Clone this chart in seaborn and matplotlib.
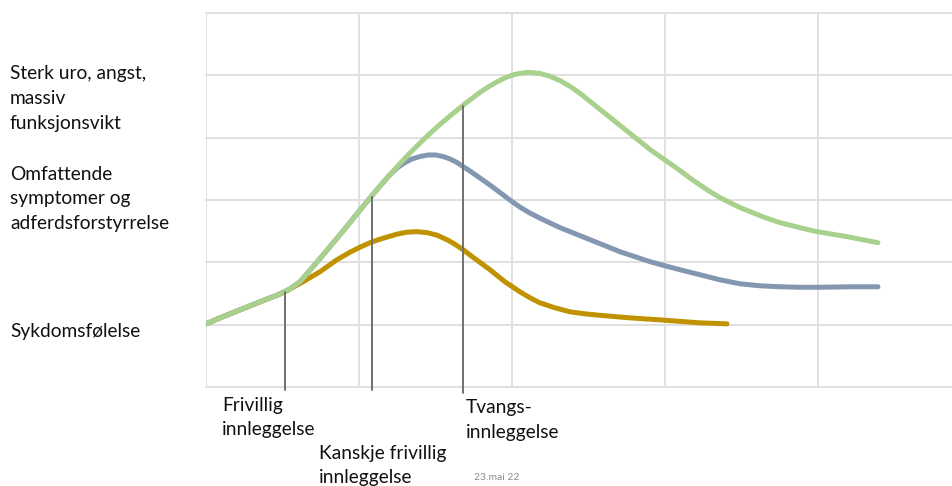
import numpy as np
import pandas as pd
import matplotlib
matplotlib.use("Agg")
import matplotlib.pyplot as plt
import seaborn as sns

# Curves (x: grid columns from the left edge, y: grid rows from the bottom)
green_x = [0, 0.092, 0.190, 0.288, 0.386, 0.471, 0.549, 0.614, 0.699, 0.758, 0.810, 0.876,
           0.922, 0.993, 1.085, 1.137, 1.203, 1.268, 1.333, 1.399, 1.464, 1.529, 1.595,
           1.680, 1.725, 1.791, 1.856, 1.902, 1.954, 2.007, 2.052, 2.105, 2.183, 2.248,
           2.314, 2.379, 2.444, 2.510, 2.575, 2.641, 2.706, 2.771, 2.837, 2.902, 2.967,
           3.033, 3.098, 3.163, 3.229, 3.294, 3.359, 3.425, 3.490, 3.556, 3.654, 3.752,
           3.882, 3.993, 4.190, 4.392]
green_y = [1.013, 1.109, 1.206, 1.302, 1.399, 1.479, 1.576, 1.688, 1.929, 2.098, 2.251, 2.444,
           2.580, 2.797, 3.071, 3.223, 3.408, 3.585, 3.754, 3.915, 4.068, 4.212, 4.349,
           4.518, 4.606, 4.727, 4.831, 4.895, 4.960, 5.008, 5.032, 5.048, 5.030, 4.985,
           4.915, 4.823, 4.711, 4.582, 4.453, 4.325, 4.196, 4.068, 3.939, 3.810, 3.698,
           3.585, 3.473, 3.352, 3.240, 3.135, 3.039, 2.958, 2.878, 2.814, 2.717, 2.637,
           2.556, 2.492, 2.412, 2.315]

blue_x = [0, 0.092, 0.190, 0.288, 0.386, 0.471, 0.549, 0.614, 0.699, 0.758, 0.810, 0.876,
          0.922, 0.993, 1.085, 1.137, 1.203, 1.248, 1.301, 1.346, 1.399, 1.451, 1.503,
          1.549, 1.595, 1.641, 1.680, 1.725, 1.791, 1.856, 1.922, 1.987, 2.052, 2.118,
          2.216, 2.314, 2.412, 2.510, 2.608, 2.706, 2.804, 2.902, 3.000, 3.098, 3.229,
          3.359, 3.490, 3.621, 3.752, 3.882, 4.013, 4.209, 4.392]
blue_y = [1.013, 1.109, 1.206, 1.302, 1.399, 1.479, 1.576, 1.688, 1.929, 2.098, 2.251, 2.444,
          2.580, 2.797, 3.071, 3.223, 3.408, 3.513, 3.601, 3.658, 3.698, 3.722, 3.722,
          3.698, 3.658, 3.601, 3.537, 3.465, 3.352, 3.240, 3.119, 2.998, 2.886, 2.789,
          2.669, 2.556, 2.460, 2.363, 2.267, 2.170, 2.090, 2.010, 1.945, 1.881, 1.801,
          1.720, 1.656, 1.624, 1.608, 1.600, 1.600, 1.608, 1.608]

orange_x = [0, 0.092, 0.190, 0.288, 0.386, 0.471, 0.516, 0.634, 0.745, 0.856, 0.941, 1.007,
            1.072, 1.137, 1.248, 1.314, 1.379, 1.444, 1.510, 1.575, 1.627, 1.680, 1.758,
            1.856, 1.954, 2.052, 2.118, 2.183, 2.281, 2.379, 2.477, 2.575, 2.771, 2.967,
            3.229, 3.405]
orange_y = [1.013, 1.109, 1.206, 1.302, 1.399, 1.479, 1.527, 1.688, 1.849, 2.042, 2.162, 2.243,
            2.315, 2.371, 2.452, 2.484, 2.492, 2.476, 2.436, 2.363, 2.291, 2.203, 2.058,
            1.881, 1.688, 1.527, 1.431, 1.350, 1.270, 1.206, 1.174, 1.150, 1.109, 1.077,
            1.029, 1.013]

# Admission markers: x position, top and bottom of each line
marker_x = [0.516, 1.085, 1.680]
marker_top = [1.53, 3.05, 4.50]
marker_bottom = [-0.05, -0.05, -0.10]

level_labels = ["Sterk uro, angst,\nmassiv\nfunksjonsvikt",
                "Omfattende\nsymptomer og\nadferdsforstyrrelse",
                "Sykdomsfølelse"]
admission_labels = ["Frivillig\ninnleggelse", "Kanskje frivillig\ninnleggelse",
                    "Tvangs-\ninnleggelse"]

sns.set_style("white")
plt.rcParams['font.family'] = ['Lato', 'DejaVu Sans']

W, H = 953, 486
fig = plt.figure(figsize=(W / 100, H / 100), dpi=100)
ax = fig.add_axes([206 / W, 1 - 387 / H, (W - 206) / W, 374 / H])

grid_c = "#e0e0e0"
for gx in range(0, 6):
    ax.axvline(gx, color=grid_c, lw=1.4, zorder=0)
for gy in range(0, 7):
    ax.axhline(gy, color=grid_c, lw=1.4, zorder=0, clip_on=False)

curves = [(orange_x, orange_y, "#c09200"),
          (blue_x, blue_y, "#8497b0"),
          (green_x, green_y, "#a9d18e")]
for cx, cy, col in curves:
    df = pd.DataFrame({"x": cx, "y": cy})
    sns.lineplot(data=df, x="x", y="y", sort=False, color=col, lw=3.6,
                 solid_capstyle="round", solid_joinstyle="round", ax=ax)

for mx, top, bot in zip(marker_x, marker_top, marker_bottom):
    ax.plot([mx, mx], [bot, top], color="#707070", lw=1.4, clip_on=False, zorder=5)

ax.set_xlim(0, (W - 206) / 153)
ax.set_ylim(0, 6)
ax.set_xticks([])
ax.set_yticks([])
ax.set_xlabel("")
ax.set_ylabel("")
for s in ax.spines.values():
    s.set_visible(False)


def put(text, px, py, size=13.8, color="#111111"):
    # py is the center of the first line, in pixels from the top
    for i, line in enumerate(text.split("\n")):
        fig.text(px / W, 1 - (py + i * 24.5) / H, line, fontsize=size,
                 color=color, ha="left", va="center")


put(level_labels[0], 10, 74)
put(level_labels[1], 10, 174)
put(level_labels[2], 10, 331)
put(admission_labels[0], 222, 405)
put(admission_labels[1], 319, 453)
put(admission_labels[2], 466, 408)
fig.text(474 / W, 1 - 477 / H, "23.mai 22", fontsize=7.5, color="#8c8c8c",
         ha="left", va="center")

fig.savefig("out.png", dpi=100)
